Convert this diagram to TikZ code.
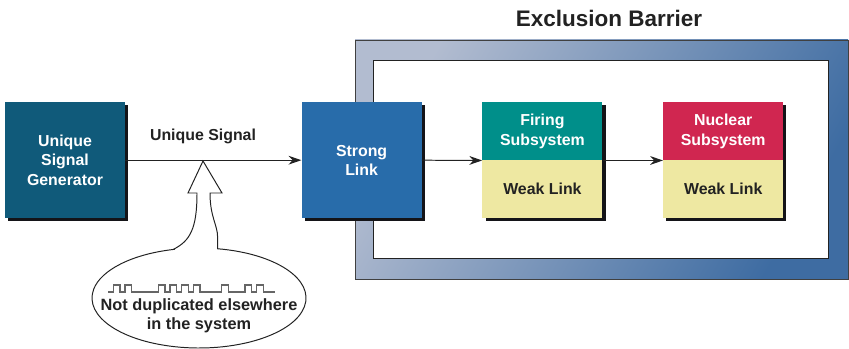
\documentclass[tikz,border=0pt]{standalone}
\usepackage{fontspec}
\setmainfont{Liberation Sans}
\usetikzlibrary{arrows.meta,positioning}

\definecolor{genblue}{RGB}{16,90,122}
\definecolor{linkblue}{RGB}{40,108,170}
\definecolor{firingteal}{RGB}{0,143,138}
\definecolor{nuclearred}{RGB}{208,38,80}
\definecolor{weakyellow}{RGB}{238,232,162}
\definecolor{boxshade}{RGB}{20,20,24}
\definecolor{barrierlight}{RGB}{178,188,208}
\definecolor{barrierdark}{RGB}{62,108,162}
\definecolor{inkgray}{RGB}{34,34,34}

\tikzset{
  box/.style={minimum width=3cm, minimum height=2.9cm, align=center,
    text=white, inner sep=1pt},
  subtop/.style={box, minimum height=1.45cm},
  weakbox/.style={box, minimum height=1.45cm, fill=weakyellow, text=inkgray},
  sig/.style={-{Stealth[length=3.2mm,width=2.2mm]}, line width=0.7pt, draw=inkgray, fill=inkgray},
}

\begin{document}
\begin{tikzpicture}[font=\fontsize{11.3}{13.8}\selectfont\bfseries]
\useasboundingbox (0,0) rectangle (21.225,8.725);

% ==== Exclusion barrier frame ====
\node[font=\fontsize{16}{19}\selectfont\bfseries, text=inkgray] (title) at (15.225,8.275) {Exclusion Barrier};
\draw[draw=black!75, line width=0.6pt, shade, shading=axis, left color=barrierlight,
      right color=barrierdark, shading angle=60] (8.875,1.75) rectangle (21.2,7.725);
\draw[draw=inkgray, fill=white, line width=0.7pt] (9.325,2.275) rectangle (20.7,7.225);

% drop shadows under the boxes
\foreach \x in {1.625, 9.04, 13.56, 18.08}
    \fill[boxshade] (\x-1.42,3.19) rectangle (\x+1.58,6.09);

% ==== Signal source ====
\node[box, fill=genblue] (gen) at (1.625,4.72) {Unique\\Signal\\Generator};

% ==== Strong link (sits in the barrier wall) ====
\node[box, fill=linkblue] (strong) at (9.04,4.72) {Strong\\Link};

% Subsystems, each behind its weak link
\foreach \name/\x/\col/\what in {fire/13.56/firingteal/Firing, nuke/18.08/nuclearred/Nuclear}{
    \node[subtop, fill=\col] (\name) at (\x,5.445) {\what\\Subsystem};
    \node[weakbox] (\name-weak) at (\x,3.995) {Weak Link};
}

% ==== Connections ====
\draw[sig] (gen.east) -- (strong.west);
\draw[sig] (strong.east) -- (fire.south west);
\draw[sig] (fire.south east) -- (nuke.south west);

% Label over the signal line
\coordinate (tip) at (5.075,4.70);
\node[text=inkgray, above=0.3cm of tip] (siglabel) {Unique Signal};

% ==== Callout bubble ====
\draw[draw=inkgray, fill=white, line width=0.7pt]
    (4.328,2.488) .. controls (4.75,2.7) and (4.925,3.0) .. (4.925,3.9)
    -- (4.70,3.9) -- (tip) -- (5.55,3.9) -- (5.25,3.9)
    .. controls (5.25,3.3) and (5.44,3.1) .. (5.44,2.8) -- (5.44,2.506)
    arc[start angle=80, end angle=-256, x radius=2.675cm, y radius=1.25cm]
    -- cycle;

% pulse train
\draw[black!60, line width=0.8pt] (2.7,1.425)
    \foreach \a/\b in {2.83/3.0, 3.125/3.29, 3.96/4.125, 4.25/4.42, 4.54/4.71,
                       4.83/5.0, 5.54/5.71, 6.125/6.29, 6.42/6.58}
    { -- (\a,1.425) -- (\a,1.6) -- (\b,1.6) -- (\b,1.425) }
    -- (6.875,1.425);

\node[text=inkgray, align=center, font=\fontsize{11.6}{13.8}\selectfont\bfseries] (note) at (4.975,0.83) {Not duplicated elsewhere\\in the system};

\end{tikzpicture}
\end{document}
